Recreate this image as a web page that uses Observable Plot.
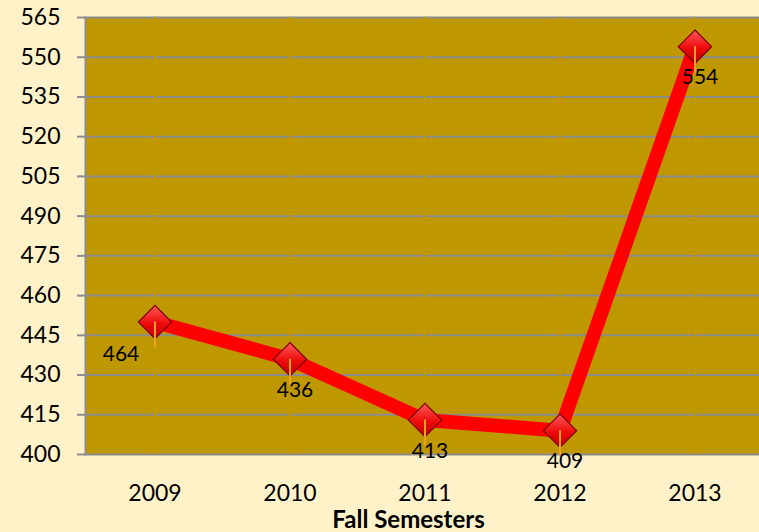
<!DOCTYPE html>
<html>
<head>
<meta charset="utf-8">
<script src="https://cdn.jsdelivr.net/npm/d3@7"></script>
<script src="https://cdn.jsdelivr.net/npm/@observablehq/plot@0.6"></script>
<style>
  html, body { margin: 0; padding: 0; background: #FFF2C8; }
  #chart svg { display: block; }
</style>
</head>
<body>
<div id="chart"></div>
<script>
const years = ["2009", "2010", "2011", "2012", "2013"];
const values = [450, 436, 413, 409, 554];
const labels = ["464", "436", "413", "409", "554"];
const yTicks = [400, 415, 430, 445, 460, 475, 490, 505, 520, 535, 550, 565];

const data = years.map((y, i) => ({year: y, value: values[i], label: labels[i]}));

const gray = "#8c8c8c";
const olive = "#BF9800";
const font = "Lato, 'Open Sans', sans-serif";

const chart = Plot.plot({
  width: 759,
  height: 532,
  marginTop: 17,
  marginBottom: 78,
  marginLeft: 85,
  marginRight: 0,
  style: {background: "#FFF2C8", fontFamily: font, color: "#000"},
  x: {type: "band", domain: years, range: [85, 764], padding: 0},
  y: {domain: [400, 565], ticks: yTicks},
  marks: [
    Plot.frame({fill: olive, stroke: null}),
    Plot.gridY(yTicks, {stroke: gray, strokeOpacity: 1, strokeWidth: 2}),
    Plot.ruleX(years, {x: d => d, stroke: olive, strokeWidth: 2}),
    Plot.frame({anchor: "left", stroke: gray, strokeWidth: 2}),
    Plot.axisY(yTicks, {tickSize: 8, tickPadding: 17, stroke: gray, strokeWidth: 2, fontSize: 23, label: null, tickFormat: d => String(d)}),
    Plot.axisX({tickSize: 0, tickPadding: 30, fontSize: 23, label: "Fall Semesters", labelAnchor: "center", labelOffset: 73, labelArrow: "none"}),
    Plot.line(data, {x: "year", y: "value", stroke: "#FF0000", strokeWidth: 14, strokeLinejoin: "round"}),
    Plot.dot(data, {x: "year", y: "value", symbol: "diamond2", r: 15, fill: "url(#redgrad)", stroke: "#7a0000", strokeWidth: 1.2}),
    Plot.ruleX(data, {x: "year", y1: "value", y2: "value", insetBottom: -26, stroke: "#F0A020", strokeWidth: 2}),
    Plot.text(data.slice(0, 1), {x: "year", y: "value", text: "label", dx: -34, dy: 32, fontSize: 21, fill: "#000"}),
    Plot.text(data.slice(1), {x: "year", y: "value", text: "label", dx: 5, dy: 31, fontSize: 21, fill: "#000"})
  ]
});

// gradient for diamond markers
const svg = d3.select(chart);
const defs = svg.insert("defs", ":first-child");
const g = defs.append("linearGradient").attr("id", "redgrad")
  .attr("x1", "0").attr("y1", "0").attr("x2", "0").attr("y2", "1");
g.append("stop").attr("offset", "0%").attr("stop-color", "#ff5a5a");
g.append("stop").attr("offset", "55%").attr("stop-color", "#ee0a0a");
g.append("stop").attr("offset", "100%").attr("stop-color", "#c00000");

// bold axis title
svg.selectAll("[aria-label='x-axis label']")
  .attr("font-size", 24).style("font-size", "24px").attr("font-weight", "bold");
svg.selectAll("[aria-label='x-axis label'] text")
  .style("font-weight", "bold").style("font-size", "24px").attr("dx", -14);

document.getElementById("chart").appendChild(chart);
</script>
</body>
</html>
